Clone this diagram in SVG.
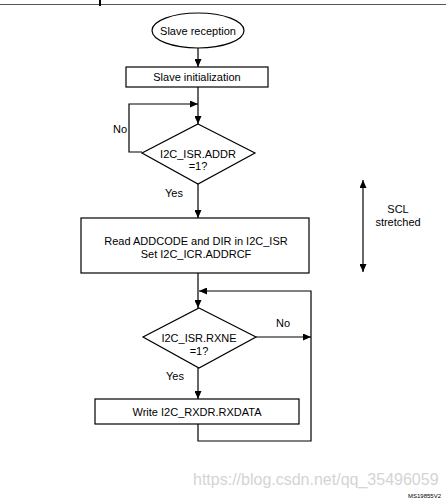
<svg xmlns="http://www.w3.org/2000/svg" width="446" height="500" viewBox="0 0 446 500">
<defs>
<marker id="ah" markerUnits="userSpaceOnUse" markerWidth="8" markerHeight="7" refX="8" refY="3.5" orient="auto">
<path d="M0,0 L8,3.5 L0,7 z" fill="#000"/>
</marker>
<marker id="ahs" markerUnits="userSpaceOnUse" markerWidth="8" markerHeight="7" refX="0" refY="3.5" orient="auto">
<path d="M8,0 L0,3.5 L8,7 z" fill="#000"/>
</marker>
<style>
.sh{fill:#fff;stroke:#000;stroke-width:1.2}
.ln{fill:none;stroke:#000;stroke-width:1.2}
.t{font-family:"Liberation Sans",Arial,sans-serif;font-size:11px;fill:#000;text-anchor:middle}
.wm{font-family:"Liberation Sans",Arial,sans-serif;font-size:16px;fill:#d4d4d4}
.code{font-family:"Liberation Sans",Arial,sans-serif;font-size:6px;fill:#000}
</style>
</defs>
<rect width="446" height="500" fill="#fff"/>
<line x1="0" y1="4.5" x2="446" y2="4.5" stroke="#555" stroke-width="1"/>
<rect x="99" y="0" width="2" height="6" fill="#000"/>

<g id="connectors">
<line class="ln" x1="198" y1="48" x2="198" y2="67" marker-end="url(#ah)"/>
<line class="ln" x1="198" y1="87" x2="198" y2="124" marker-end="url(#ah)"/>
<polyline class="ln" points="142,152 129,152 129,104 198,104" marker-end="url(#ah)"/>
<line class="ln" x1="198" y1="184" x2="198" y2="218" marker-end="url(#ah)"/>
<line class="ln" x1="198" y1="273" x2="198" y2="308" marker-end="url(#ah)"/>
<line class="ln" x1="256" y1="337" x2="311" y2="337" marker-end="url(#ah)"/>
<line class="ln" x1="198" y1="368" x2="198" y2="399" marker-end="url(#ah)"/>
<polyline class="ln" points="198,424 198,441 311,441 311,291 199,291" marker-end="url(#ah)"/>
<line class="ln" x1="363" y1="180" x2="363" y2="272" marker-start="url(#ahs)" marker-end="url(#ah)"/>
</g>

<g id="start">
<ellipse class="sh" cx="198" cy="30.5" rx="46" ry="17.5"/>
<text class="t" x="198" y="34.5">Slave reception</text>
</g>
<g id="init">
<rect class="sh" x="126" y="67" width="142" height="20"/>
<text class="t" x="197" y="81">Slave initialization</text>
</g>
<g id="addr">
<polygon class="sh" points="198,124 255,153 198,184 142,153"/>
<text class="t" x="198" y="158">I2C_ISR.ADDR</text>
<text class="t" x="198" y="170">=1?</text>
<text class="t" x="120" y="133">No</text>
<text class="t" x="174" y="197">Yes</text>
</g>
<g id="readaddr">
<rect class="sh" x="81" y="218" width="228" height="55"/>
<text class="t" x="196" y="245">Read ADDCODE and DIR in I2C_ISR</text>
<text class="t" x="196" y="258">Set I2C_ICR.ADDRCF</text>
</g>
<g id="scl">
<text class="t" x="398" y="213">SCL</text>
<text class="t" x="398" y="226">stretched</text>
</g>
<g id="rxne">
<polygon class="sh" points="199,308 256,337 199,368 143,337"/>
<text class="t" x="199" y="342">I2C_ISR.RXNE</text>
<text class="t" x="199" y="355">=1?</text>
<text class="t" x="283" y="327">No</text>
<text class="t" x="175" y="380">Yes</text>
</g>
<g id="write">
<rect class="sh" x="95" y="399" width="204" height="25"/>
<text class="t" x="197" y="416">Write I2C_RXDR.RXDATA</text>
</g>
<text class="wm" x="193" y="485">https://blog.csdn.net/qq_35496059</text>
<text class="code" x="408" y="498">MS19855V2</text>
</svg>
